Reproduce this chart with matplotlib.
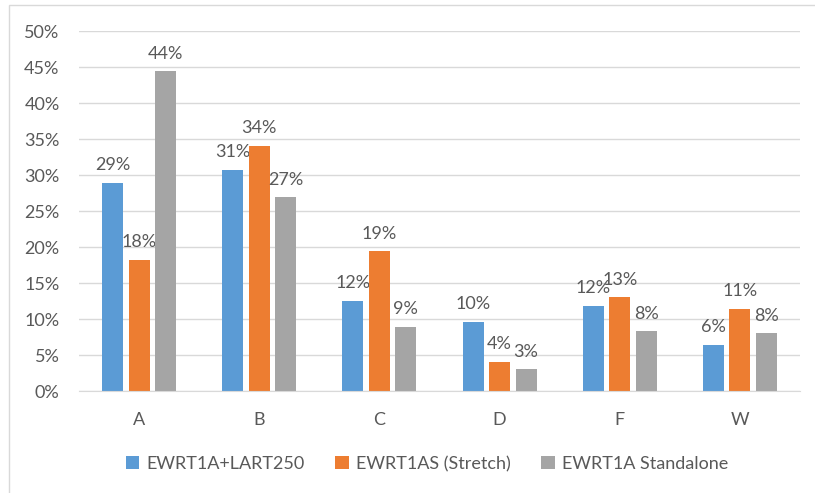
import numpy as np
from matplotlib import pyplot as plt
from matplotlib.patches import Rectangle
from matplotlib.ticker import PercentFormatter

plt.rcParams['font.family'] = ['Lato', 'DejaVu Sans']

categories = ['A', 'B', 'C', 'D', 'F', 'W']
series_names = ['EWRT1A+LART250', 'EWRT1AS (Stretch)', 'EWRT1A Standalone']
lart250 = [28.9, 30.7, 12.5, 9.6, 11.8, 6.4]
stretch = [18.2, 34.0, 19.4, 4.0, 13.0, 11.4]
standalone = [44.4, 26.9, 8.9, 3.0, 8.3, 8.0]
colors = ['#5B9BD5', '#ED7D31', '#A5A5A5']
text_color = '#595959'
grid_color = '#D9D9D9'

fig = plt.figure(figsize=(8.15, 4.93), dpi=100)
ax = fig.add_axes([79 / 815, 1 - 391 / 493, (800 - 79) / 815, (391 - 31) / 493])

x = np.arange(len(categories))
width = 0.175
step = 0.22
for i, (name, vals) in enumerate(zip(series_names, [lart250, stretch, standalone])):
    pos = x + (i - 1) * step
    ax.bar(pos, vals, width, color=colors[i], label=name, zorder=3)
    for p, v in zip(pos, vals):
        ax.annotate(f"{v:.0f}%", (p, v), xytext=(0, 7), textcoords='offset points',
                    ha='center', va='bottom', fontsize=13, color=text_color)

ax.set_xlim(-0.5, len(categories) - 0.5)
ax.set_ylim(0, 50)
ax.set_yticks(np.arange(0, 51, 5))
ax.yaxis.set_major_formatter(PercentFormatter(decimals=0))
ax.set_xticks(x)
ax.set_xticklabels(categories)
ax.tick_params(axis='y', length=0, pad=14, labelsize=13, labelcolor=text_color)
ax.tick_params(axis='x', length=0, pad=15, labelsize=13, labelcolor=text_color)
ax.grid(axis='y', color=grid_color, linewidth=1, zorder=0)
for s in ['top', 'right', 'left']:
    ax.spines[s].set_visible(False)
ax.spines['bottom'].set_color(grid_color)
ax.spines['bottom'].set_zorder(4)

fig.legend(loc='center', bbox_to_anchor=(427 / 815, 1 - 464 / 493), ncol=3,
           frameon=False, fontsize=13, labelcolor=text_color,
           handlelength=0.75, handleheight=0.75, handletextpad=0.4, columnspacing=1.7)

fig.patches.append(Rectangle((9 / 815, -0.1), 1.0, 1.1 - 5 / 493, transform=fig.transFigure,
                             fill=False, edgecolor=grid_color, linewidth=1))

plt.savefig('out.png', dpi=100)
